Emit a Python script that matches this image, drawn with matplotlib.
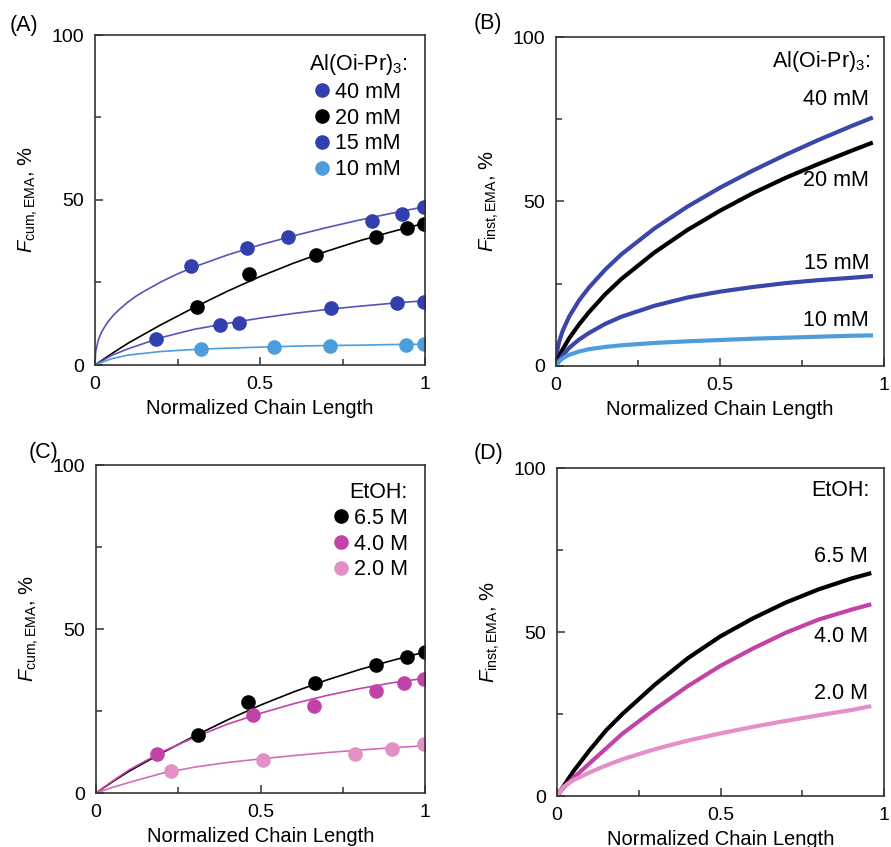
import matplotlib
matplotlib.use('Agg')
import matplotlib.pyplot as plt
from matplotlib.lines import Line2D

plt.rcParams['font.family'] = ['Liberation Sans', 'DejaVu Sans']
plt.rcParams['mathtext.fontset'] = 'custom'
plt.rcParams['mathtext.rm'] = 'Liberation Sans'
plt.rcParams['mathtext.it'] = 'Liberation Sans:italic'
plt.rcParams['mathtext.bf'] = 'Liberation Sans:bold'

# colours
BLUE = '#3140ae'
BLUE_LINE = '#5a52b8'
BLUE_B = '#3b46aa'
LIGHT_BLUE = '#4d9ddc'
MAGENTA = '#c243a8'
PINK = '#e290c6'
PINK_LINE = '#d46cb8'

# ---- panel A: cumulative EMA fraction, Al(Oi-Pr)3 series (points + fits)
a_labels = ['40 mM', '20 mM', '15 mM', '10 mM']
a40_x = [0.292, 0.462, 0.586, 0.840, 0.929, 0.998]
a40_y = [30.1, 35.4, 38.7, 43.6, 45.7, 47.8]
a20_x = [0.310, 0.467, 0.670, 0.850, 0.944, 0.998]
a20_y = [17.5, 27.5, 33.3, 38.9, 41.4, 42.7]
a15_x = [0.186, 0.378, 0.436, 0.716, 0.914, 0.998]
a15_y = [7.9, 12.1, 12.8, 17.2, 18.7, 19.2]
a10_x = [0.320, 0.541, 0.711, 0.941, 0.998]
a10_y = [4.8, 5.6, 5.9, 6.2, 6.3]

fit_x_fine = [0, 0.002, 0.005, 0.01, 0.02, 0.03, 0.04, 0.055, 0.07, 0.085, 0.1, 0.125, 0.15, 0.2,
              0.25, 0.3, 0.4, 0.5, 0.6, 0.7, 0.8, 0.9, 1.0]
a40_fit = [0, 4.0, 5.4, 7.6, 10.0, 11.7, 13.2, 15.0, 16.5, 17.8, 19.1, 20.9, 22.4, 25.2,
           27.6, 29.7, 33.3, 36.4, 39.1, 41.6, 43.9, 46.0, 48.0]
fit_x = [0, 0.05, 0.1, 0.2, 0.3, 0.4, 0.5, 0.6, 0.7, 0.8, 0.9, 1.0]
a20_fit = [0, 3.4, 6.6, 12.2, 17.4, 22.3, 26.8, 30.8, 34.4, 37.6, 40.4, 43.0]
a15_fit = [0, 2.9, 4.9, 8.3, 10.8, 12.6, 14.2, 15.6, 16.8, 17.8, 18.7, 19.5]
a10_fit = [0, 1.9, 3.0, 4.1, 4.7, 5.1, 5.4, 5.7, 5.9, 6.0, 6.2, 6.3]

# ---- panel B: instantaneous EMA fraction, Al(Oi-Pr)3 series
b_x = [0, 0.005, 0.01, 0.02, 0.04, 0.07, 0.1, 0.15, 0.2, 0.3, 0.4, 0.5, 0.6, 0.7, 0.8, 0.9, 0.96]
b40 = [0, 5.3, 7.5, 10.6, 15.0, 19.9, 23.8, 29.3, 34.0, 41.8, 48.4, 54.2, 59.4, 64.2, 68.7, 72.9, 75.3]
b20 = [0, 1.6, 2.9, 5.0, 8.4, 12.6, 16.3, 21.8, 26.5, 34.5, 41.3, 47.2, 52.5, 57.2, 61.4, 65.4, 67.7]
b15 = [0, 1.0, 1.8, 3.2, 5.5, 8.0, 10.0, 12.8, 15.0, 18.3, 20.8, 22.6, 24.0, 25.2, 26.1, 26.8, 27.3]
b10 = [0, 0.8, 1.4, 2.3, 3.4, 4.4, 5.1, 5.8, 6.3, 7.0, 7.5, 7.9, 8.3, 8.6, 8.9, 9.2, 9.3]
b_label_y = [80.9, 56.5, 31.2, 13.9]

# ---- panel C: cumulative EMA fraction, EtOH series
c_labels = ['6.5 M', '4.0 M', '2.0 M']
c65_x = [0.311, 0.463, 0.666, 0.850, 0.946, 1.0]
c65_y = [17.8, 27.6, 33.5, 39.1, 41.4, 42.9]
c40_x = [0.184, 0.478, 0.664, 0.850, 0.936, 0.998]
c40_y = [12.0, 23.9, 26.6, 31.0, 33.5, 34.8]
c20_x = [0.227, 0.509, 0.787, 0.899, 0.998]
c20_y = [6.6, 10.2, 12.0, 13.5, 15.0]
c65_fit = [0, 3.4, 6.6, 12.2, 17.4, 22.3, 26.8, 30.8, 34.4, 37.6, 40.4, 43.0]
c40_fit = [0, 3.6, 7.0, 12.5, 17.0, 21.0, 24.3, 27.2, 29.7, 31.8, 33.6, 35.0]
c20_fit = [0, 1.7, 3.2, 6.0, 7.9, 9.3, 10.4, 11.4, 12.3, 13.1, 13.8, 14.4]

# ---- panel D: instantaneous EMA fraction, EtOH series
d_x = [0, 0.02, 0.05, 0.1, 0.15, 0.2, 0.3, 0.4, 0.5, 0.6, 0.7, 0.8, 0.9, 0.955]
d65 = [0, 3.0, 7.5, 14.0, 20.0, 25.0, 34.0, 42.0, 48.7, 54.2, 59.0, 63.0, 66.3, 67.8]
d40 = [0, 2.5, 5.5, 10.0, 14.5, 19.0, 26.5, 33.5, 39.7, 45.0, 49.8, 53.8, 56.8, 58.3]
d20 = [0, 2.8, 4.8, 7.2, 9.3, 11.2, 14.3, 16.9, 19.1, 21.1, 22.9, 24.6, 26.2, 27.3]
d_label_y = [72.9, 48.5, 31.3]

FS_TICK = 14
FS_LAB = 14.5
FS_KEY = 15.5


def style_axes(ax, ylabel):
    ax.set_xlim(0, 1)
    ax.set_ylim(0, 100)
    ax.set_xticks([0, 0.5, 1])
    ax.set_xticklabels(['0', '0.5', '1'])
    ax.set_xticks([0.25, 0.75], minor=True)
    ax.set_yticks([0, 50, 100])
    ax.set_yticks([25, 75], minor=True)
    ax.tick_params(which='both', direction='in', labelsize=FS_TICK, color='#333333', width=1.1)
    ax.tick_params(which='major', length=6)
    ax.tick_params(which='minor', length=4.5)
    ax.tick_params(axis='x', pad=8)
    ax.tick_params(axis='y', pad=8)
    for s in ax.spines.values():
        s.set_color('#333333')
        s.set_linewidth(1.2)
    ax.set_xlabel('Normalized Chain Length', fontsize=FS_LAB, labelpad=4)
    ax.set_ylabel(ylabel, fontsize=FS_LAB, labelpad=8)


def legend_with_title(ax, colors, labels, title, align):
    handles = [Line2D([], [], ls='none', marker='o', ms=9.5, color=c) for c in colors]
    leg = ax.legend(handles, labels, title=title, loc='upper right', frameon=False,
                    fontsize=FS_KEY, title_fontsize=FS_KEY, handlelength=0.6, handletextpad=0.3,
                    labelspacing=0.22, borderaxespad=0.4, alignment=align)
    return leg


fig = plt.figure(figsize=(8.91, 8.47), dpi=100)
W, H = 891, 847
axA = fig.add_axes([95 / W, 1 - 365 / H, 330 / W, 330 / H])
axB = fig.add_axes([556 / W, 1 - 366 / H, 328 / W, 329 / H])
axC = fig.add_axes([96 / W, 1 - 793 / H, 329 / W, 328 / H])
axD = fig.add_axes([557 / W, 1 - 796 / H, 327 / W, 328 / H])

ylab_cum = r'$F_{\mathrm{cum,EMA}}$, %'
ylab_inst = r'$F_{\mathrm{inst,EMA}}$, %'

# A
axA.plot(fit_x_fine, a40_fit, color=BLUE_LINE, lw=1.2)
axA.plot(fit_x, a20_fit, color='black', lw=1.2)
axA.plot(fit_x, a15_fit, color=BLUE_LINE, lw=1.2)
axA.plot(fit_x, a10_fit, color=LIGHT_BLUE, lw=1.2)
axA.plot(a40_x, a40_y, 'o', ms=9.5, color=BLUE)
axA.plot(a20_x, a20_y, 'o', ms=9.5, color='black')
axA.plot(a15_x, a15_y, 'o', ms=9.5, color=BLUE)
axA.plot(a10_x, a10_y, 'o', ms=9.5, color=LIGHT_BLUE)
style_axes(axA, ylab_cum)
legend_with_title(axA, [BLUE, 'black', BLUE, LIGHT_BLUE], a_labels, r'Al(Oi-Pr)$_3$:', 'center')

# B
axB.plot(b_x, b40, color=BLUE_B, lw=3)
axB.plot(b_x, b20, color='black', lw=3)
axB.plot(b_x, b15, color=BLUE_B, lw=3)
axB.plot(b_x, b10, color=LIGHT_BLUE, lw=3)
style_axes(axB, ylab_inst)
axB.text(0.96, 92.5, r'Al(Oi-Pr)$_3$:', ha='right', va='center', fontsize=FS_KEY)
for lab, y in zip(a_labels, b_label_y):
    axB.text(0.955, y, lab, ha='right', va='center', fontsize=FS_KEY)

# C
axC.plot(fit_x, c65_fit, color='black', lw=1.2)
axC.plot(fit_x, c40_fit, color=MAGENTA, lw=1.2)
axC.plot(fit_x, c20_fit, color=PINK_LINE, lw=1.2)
axC.plot(c65_x, c65_y, 'o', ms=9.5, color='black')
axC.plot(c40_x, c40_y, 'o', ms=9.5, color=MAGENTA)
axC.plot(c20_x, c20_y, 'o', ms=9.5, color=PINK)
style_axes(axC, ylab_cum)
legend_with_title(axC, ['black', MAGENTA, PINK], c_labels, 'EtOH:', 'right')

# D
axD.plot(d_x, d65, color='black', lw=3)
axD.plot(d_x, d40, color=MAGENTA, lw=3)
axD.plot(d_x, d20, color=PINK, lw=3)
style_axes(axD, ylab_inst)
axD.text(0.955, 93.2, 'EtOH:', ha='right', va='center', fontsize=FS_KEY)
for lab, y in zip(c_labels, d_label_y):
    axD.text(0.95, y, lab, ha='right', va='center', fontsize=FS_KEY)

# panel letters
fig.text(10 / W, 1 - 25 / H, '(A)', fontsize=15.5, va='center')
fig.text(474 / W, 1 - 23 / H, '(B)', fontsize=15.5, va='center')
fig.text(29 / W, 1 - 452 / H, '(C)', fontsize=15.5, va='center')
fig.text(474 / W, 1 - 453 / H, '(D)', fontsize=15.5, va='center')

fig.savefig('out.png', dpi=100)
plt.close(fig)
